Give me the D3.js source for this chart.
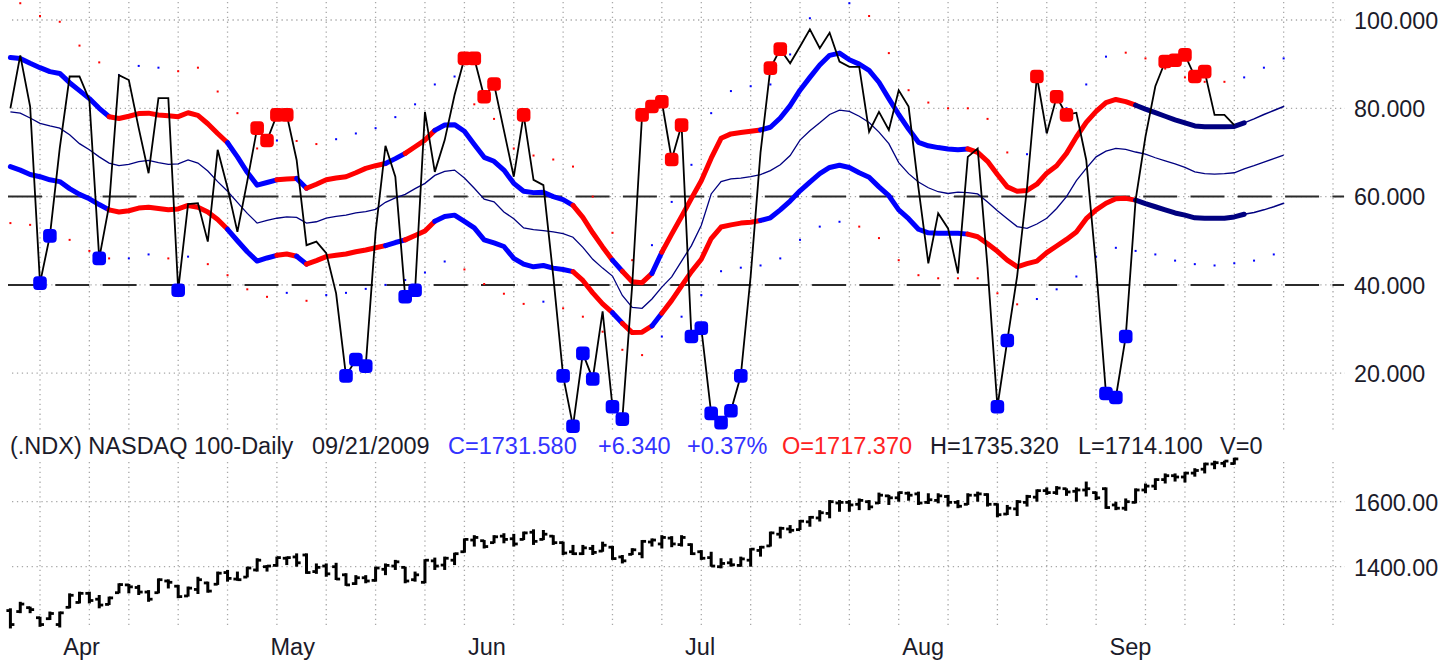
<!DOCTYPE html>
<html>
<head>
<meta charset="utf-8">
<script src="https://cdnjs.cloudflare.com/ajax/libs/d3/7.8.5/d3.min.js"></script>
<style>
  body { margin: 0; background: #fff; overflow: hidden; }
  #vis text { font-family: Arial, "Liberation Sans", sans-serif; }
</style>
</head>
<body>
<div id="vis"></div>
<script>
/* NDX daily: oscillator panel with bands on top, OHLC bars below */

// Trading-day index of the first session of each month / each week (0 = 03/25/2009)
var monthLabels = ['Apr', 'May', 'Jun', 'Jul', 'Aug', 'Sep'];
var monthStarts = [5, 26, 46, 68, 90, 111];
var weekStarts = [3, 8, 12, 17, 22, 27, 32, 37, 42, 46, 51, 56, 61, 66, 70, 75, 80, 85, 90, 95, 100, 105, 110, 115, 119, 124, 129, 134];

// Axis ticks
var oscTicks = [100, 80, 60, 40, 20];
var priceTicks = [1600, 1400];
var levelLines = [60, 40];

// Oscillator (black line), one value per session
var osc = [80, 92, 80.4, 40.4, 51.1, 71, 87.2, 87.2, 81.9, 46,
    58, 87.5, 86.4, 75.5, 65.3, 82.3, 82.3, 38.8, 58.3, 58.5,
    49.8, 70.6, 62, 52, 63.5, 75.5, 72.7, 78.5, 78.5, 68.3,
    49, 49.8, 47.2, 38.1, 19.4, 23.1, 21.6, 52, 71.5, 64.5,
    37.3, 38.8, 79.2, 65.6, 72.8, 83, 91.3, 91.3, 82.6, 85.5,
    75, 64.5, 78.5, 63.8, 62.6, 42, 19.4, 8, 24.5, 18.7,
    34, 12.4, 9.6, 40, 78.5, 80.4, 81.5, 68.4, 76.2, 28.3,
    30.2, 10.9, 8.8, 11.5, 19.4, 42, 70, 89.1, 93.4, 90.2,
    94, 97.9, 93.6, 97.1, 90.6, 89.4, 89.4, 74.7, 79.2, 75.1,
    84.1, 80.4, 62, 44.9, 56.2, 52.8, 42.6, 69, 70.9, 44,
    12.4, 27.4, 42, 62, 87.2, 74.3, 82.6, 78.5, 79, 68.3,
    44, 15.4, 14.5, 28.3, 59.2, 73.6, 85, 90.6, 90.9, 92.1,
    87.2, 88.3, 78.5, 78.5, 76.2];

// Bands (run 5 sessions past the last bar)
var upper = [91.5, 91.3, 90.2, 89.2, 88.3, 87.9, 85.8, 84, 82.2, 80,
    78.1, 77.7, 78.2, 78.8, 78.9, 78.5, 78.3, 78.1, 79, 78.4,
    76.5, 74.3, 72.2, 69, 65.5, 62.6, 63.2, 63.8, 64, 64.1,
    61.9, 62.8, 63.8, 64.2, 64.5, 65.4, 66.4, 67, 67.5, 68.6,
    69.8, 71.3, 72.8, 75, 76.2, 76.3, 74.8, 71.8, 68.9, 68,
    66, 63, 61.2, 60.9, 61, 60, 59.3, 58, 55.3, 51.8,
    48.6, 45.6, 43.1, 40.7, 40.5, 42.6, 47.4, 51.5, 55.5, 59.6,
    63.6, 68.7, 73.2, 74.2, 74.5, 74.8, 75.1, 75.7, 77.8, 80.6,
    84.1, 87, 89.8, 92, 92.5, 91, 90, 88.6, 85.9, 82.2,
    78.6, 75.3, 72.3, 71.5, 71.1, 70.8, 70.6, 70.8, 70, 68,
    65, 62.2, 61.2, 61.4, 62.8, 65.3, 67, 69.8, 73.5, 76.8,
    79.3, 81.3, 82, 81.5, 80.7, 79.8, 79, 78.2, 77.4, 76.7,
    76, 75.8, 75.8, 75.8, 75.9, 76.7, 77.6, 78.6, 79.5, 80.4];
var middle = [79.2, 78.9, 77.8, 76.6, 76, 75.5, 74, 72, 70.6, 69,
    67.6, 67, 67.3, 67.9, 68.2, 67.7, 67.3, 67.4, 68.3, 67.6,
    65.8, 63.4, 61.2, 58.7, 56.2, 54, 54.6, 55.1, 55.4, 55.3,
    54, 54.3, 55.1, 55.5, 55.8, 56.3, 56.6, 57.1, 58.7, 59.7,
    60.5, 61.8, 63, 64.8, 65.7, 66, 64.2, 61.9, 59.4, 58.8,
    56.5, 55, 52.9, 52.5, 52.3, 52, 51.6, 50.8, 48.5, 45.8,
    43.8, 42, 37.6, 34.9, 34.7, 36.8, 39.5, 41.8, 45.4, 48.9,
    53.5, 60.6, 63.4, 64, 64.2, 64.5, 65, 65.9, 67.2, 69.3,
    72.8, 74.9, 76.7, 78.6, 79.6, 79.3, 78.2, 76.8, 74.6, 72,
    67.7, 65.2, 63.3, 62, 61.1, 60.7, 61, 60.9, 60.6, 58.8,
    56.8, 55, 53.2, 52.8, 53.8, 55.1, 57.3, 60, 63.6, 66.4,
    69, 70.3, 70.9, 70.7, 70.1, 69.6, 68.8, 68.1, 67.4, 66.6,
    65.6, 65.2, 65.1, 65.2, 65.4, 66.3, 67, 67.8, 68.6, 69.4];
var lower = [66.8, 66, 65, 64.5, 63.8, 63.4, 61.8, 60.5, 59.5, 58.2,
    57, 56.5, 56.8, 57.4, 57.6, 57.3, 57, 57.2, 58, 57.6,
    56.5, 54.8, 52.6, 50, 47.5, 45.4, 46.1, 46.7, 47, 46.5,
    44.7, 45.5, 46.4, 46.7, 47, 47.5, 47.9, 48.4, 48.9, 49.6,
    50.2, 51.2, 52.2, 54.4, 55.5, 55.8, 54.4, 52.9, 50.2, 49.5,
    48.7, 46, 44.7, 44.1, 44.4, 43.8, 43.5, 43, 41, 38.2,
    35.7, 33.7, 31.3, 29.2, 29.3, 30.7, 33.6, 36.5, 39.8, 43,
    45.8, 50.5, 53.1, 53.6, 54, 54.2, 54.6, 55.2, 57, 59,
    61.3, 63.3, 65.2, 66.6, 67.1, 66.6, 65.4, 64.4, 62.2, 60.2,
    57, 55, 52.6, 51.8, 51.7, 51.7, 51.7, 51.5, 50.9, 49.3,
    47.6, 45.6, 44.1, 44.8, 45.4, 47.3, 48.8, 50.3, 52, 55,
    57, 58.5, 59.5, 59.6, 59.2, 58.4, 57.7, 57, 56.3, 55.8,
    55.2, 55.1, 55.1, 55.1, 55.4, 56, 56.4, 57, 57.7, 58.5];

// Band signal: session where it starts, B = buy, S = sell, N = neutral, P = projection
var signalStart = [0, 10, 22, 27, 29, 30, 38, 40, 43, 57, 61, 62, 65, 66, 76, 97, 114, 125];
var signalType = ['B', 'S', 'B', 'S', 'B', 'S', 'B', 'S', 'B', 'S', 'B', 'S', 'B', 'S', 'B', 'S', 'N', 'P'];

// Extreme markers on the oscillator
var buyMarks = [3, 4, 9, 17, 34, 35, 36, 40, 41, 56, 57, 58, 59, 61, 62, 69, 70, 71, 72, 73, 74, 100, 101, 111, 112, 113];
var sellMarks = [25, 26, 27, 28, 46, 47, 48, 49, 52, 64, 65, 66, 67, 68, 77, 78, 104, 106, 107, 117, 118, 119, 120, 121];

// Dotted outer envelope (upper on odd sessions, lower on even sessions); sign 1 = sell, -1 = buy
var upDotIdx = [1, 3, 5, 7, 9, 11, 13, 15, 17, 19, 21, 23, 25, 27, 29, 31, 33, 35, 37, 39,
    41, 43, 45, 47, 49, 51, 53, 55, 57, 59, 61, 63, 65, 67, 69, 71, 73, 75, 77, 79,
    81, 85, 87, 89, 91, 93, 95, 97, 99, 101, 103, 105, 107, 109, 111, 113, 115, 117, 119, 121,
    123, 125, 127, 129];
var upDotVal = [103.8, 100.9, 99.6, 94.2, 90.4, 87.5, 89.6, 89.2, 88.4, 89.2, 83.8, 78.9, 70.9, 72.7, 72.6, 71.9, 73, 74.3, 75.5, 78,
    80.9, 85.4, 87.2, 80.9, 77.6, 70.9, 69.3, 68.4, 66.8, 60, 51.8, 45.6, 49, 58.8, 67.2, 78.9, 83.9, 85, 85.4, 92.2,
    100.4, 103.8, 100.9, 92.5, 84.1, 81.3, 80, 80, 77.6, 70, 69.6, 74.7, 80, 85.4, 91.7, 92.6, 91.3, 89, 87, 86,
    86, 87, 89.2, 91.3];
var upDotSig = [1, 1, 1, 1, 1, -1, -1, -1, 1, 1, 1, 1, 1, -1, 1, 1, -1, -1, -1, -1,
    -1, -1, -1, 1, 1, 1, 1, 1, 1, 1, 1, 1, -1, -1, -1, -1, -1, -1, -1, -1,
    -1, -1, 1, 1, 1, 1, 1, 1, 1, 1, -1, -1, -1, -1, -1, 1, 1, 1, 1, 1,
    1, -1, -1, -1];
var loDotIdx = [0, 2, 4, 6, 8, 10, 12, 14, 16, 18, 20, 22, 24, 26, 28, 30, 32, 34, 36, 38,
    40, 42, 44, 46, 48, 50, 52, 54, 56, 58, 60, 62, 64, 66, 68, 70, 72, 74, 76, 78,
    80, 82, 84, 86, 88, 90, 92, 94, 96, 98, 100, 102, 104, 106, 108, 110, 112, 114, 116, 118,
    120, 122, 124, 126, 128];
var loDotVal = [54, 53.6, 51, 50.2, 47.7, 46, 46, 46.9, 46, 46.4, 44.7, 42.2, 39, 37.3, 38.2, 36.4, 37.7, 38.2, 39.1, 40,
    41.1, 42.8, 45.3, 43.5, 40.2, 38, 35.7, 36.2, 34.7, 32.8, 29.4, 25.3, 24.1, 28.3, 32.8, 37.7, 43.1, 43.9, 44.4, 46,
    50.2, 53.2, 54.3, 53.2, 50.6, 45.6, 42.2, 41.5, 41.5, 41.5, 38.1, 35.6, 36.8, 39, 41.9, 46.4, 48.4, 47.7, 46.9, 45.5,
    44.7, 44.4, 44.9, 45.5, 46.9];
var loDotSig = [1, 1, 1, 1, 1, 1, -1, -1, 1, -1, 1, 1, 1, 1, -1, 1, -1, -1, -1, -1,
    -1, -1, -1, 1, 1, 1, 1, -1, 1, 1, 1, 1, 1, -1, -1, -1, -1, -1, -1, -1,
    -1, -1, -1, 1, 1, 1, 1, 1, 1, 1, 1, 1, -1, -1, -1, -1, -1, -1, -1, -1,
    -1, -1, -1, -1, -1];

// Daily OHLC of the index
var high = [1272, 1292, 1277, 1246, 1262, 1262, 1318, 1323, 1323, 1313,
    1308, 1349, 1347, 1344, 1328, 1364, 1361, 1344, 1339, 1369,
    1354, 1385, 1390, 1385, 1400, 1426, 1405, 1431, 1431, 1441,
    1441, 1410, 1410, 1412, 1380, 1374, 1374, 1400, 1410, 1421,
    1400, 1385, 1423, 1428, 1431, 1443, 1487, 1497, 1482, 1497,
    1503, 1501, 1508, 1515, 1513, 1497, 1477, 1467, 1467, 1467,
    1477, 1464, 1436, 1457, 1482, 1487, 1497, 1494, 1497, 1472,
    1451, 1446, 1426, 1426, 1431, 1457, 1464, 1508, 1523, 1528,
    1544, 1556, 1574, 1605, 1605, 1605, 1610, 1605, 1628, 1621,
    1631, 1631, 1631, 1626, 1626, 1621, 1605, 1626, 1631, 1626,
    1595, 1590, 1605, 1621, 1638, 1644, 1648, 1641, 1644, 1662,
    1631, 1644, 1600, 1610, 1641, 1656, 1672, 1687, 1687, 1692,
    1703, 1720, 1726, 1726, 1735.32];
var low = [1210, 1257, 1257, 1215, 1236, 1213, 1272, 1287, 1287, 1272,
    1282, 1318, 1318, 1313, 1292, 1318, 1333, 1303, 1308, 1316,
    1320, 1344, 1354, 1357, 1367, 1385, 1385, 1400, 1405, 1400,
    1378, 1378, 1369, 1359, 1341, 1344, 1349, 1354, 1374, 1390,
    1349, 1354, 1349, 1390, 1390, 1405, 1443, 1462, 1456, 1472,
    1472, 1462, 1482, 1467, 1482, 1467, 1436, 1436, 1436, 1436,
    1446, 1421, 1410, 1436, 1426, 1462, 1456, 1460, 1462, 1436,
    1421, 1400, 1395, 1400, 1400, 1400, 1431, 1462, 1487, 1503,
    1513, 1523, 1539, 1549, 1569, 1569, 1574, 1574, 1593, 1590,
    1600, 1603, 1590, 1593, 1595, 1585, 1580, 1590, 1600, 1585,
    1552, 1559, 1556, 1585, 1600, 1621, 1621, 1618, 1600, 1616,
    1605, 1578, 1574, 1572, 1595, 1626, 1636, 1656, 1662, 1659,
    1677, 1687, 1700, 1706, 1714.1];
var open = [1265, 1262, 1274, 1243, 1240, 1222, 1275, 1290, 1318, 1300,
    1284, 1320, 1344, 1336, 1322, 1320, 1356, 1340, 1310, 1330,
    1350, 1346, 1382, 1362, 1368, 1390, 1400, 1404, 1426, 1430,
    1436, 1385, 1402, 1400, 1375, 1348, 1366, 1358, 1392, 1402,
    1398, 1360, 1352, 1418, 1405, 1420, 1446, 1482, 1480, 1474,
    1494, 1486, 1484, 1506, 1484, 1494, 1474, 1446, 1440, 1456,
    1448, 1460, 1430, 1438, 1440, 1476, 1470, 1488, 1468, 1468,
    1446, 1428, 1400, 1412, 1404, 1420, 1450, 1464, 1500, 1516,
    1514, 1538, 1550, 1564, 1596, 1598, 1592, 1600, 1596, 1618,
    1612, 1626, 1624, 1598, 1604, 1616, 1598, 1592, 1620, 1622,
    1592, 1562, 1578, 1598, 1614, 1634, 1628, 1640, 1632, 1636,
    1628, 1640, 1590, 1580, 1598, 1636, 1648, 1668, 1680, 1676,
    1688, 1700, 1716, 1718, 1717.37];
var close = [1222, 1285, 1268, 1222, 1256, 1258, 1312, 1318, 1296, 1282,
    1304, 1345, 1338, 1322, 1300, 1360, 1352, 1308, 1334, 1360,
    1325, 1380, 1364, 1360, 1396, 1420, 1402, 1428, 1428, 1412,
    1382, 1398, 1378, 1362, 1344, 1366, 1356, 1396, 1404, 1415,
    1356, 1375, 1420, 1402, 1426, 1440, 1484, 1490, 1462, 1492,
    1484, 1470, 1504, 1478, 1500, 1474, 1442, 1440, 1458, 1444,
    1466, 1425, 1418, 1452, 1478, 1482, 1490, 1470, 1490, 1440,
    1426, 1402, 1410, 1406, 1424, 1454, 1460, 1504, 1518, 1512,
    1540, 1552, 1566, 1600, 1598, 1590, 1604, 1584, 1620, 1612,
    1628, 1620, 1596, 1606, 1618, 1598, 1586, 1620, 1624, 1592,
    1560, 1580, 1600, 1616, 1634, 1628, 1642, 1630, 1636, 1640,
    1612, 1582, 1580, 1600, 1636, 1648, 1668, 1680, 1676, 1688,
    1696, 1716, 1720, 1725, 1731.58];

// Quote line under the oscillator panel
var quoteText = ['(.NDX) NASDAQ 100-Daily', '09/21/2009', 'C=1731.580', '+6.340', '+0.37%', 'O=1717.370', 'H=1735.320', 'L=1714.100', 'V=0'];
var quoteKind = ['name', 'name', 'up', 'up', 'up', 'open', 'name', 'name', 'name'];

(function () {
    var width = 1440;
    var height = 663;

    var colors = { B: '#0000ff', S: '#ff0000', N: '#000080', P: '#000080' };
    var dotColor = d3.scaleOrdinal().domain([1, -1]).range(['#ff0000', '#0000ff']);
    var textColor = { name: '#1b1b2a', up: '#3333ff', open: '#ff2222' };

    var svg = d3.select('#vis')
        .append('svg')
        .attr('width', width)
        .attr('height', height);

    // Scales: session index -> x, oscillator value -> y, price -> y
    var xScale = d3.scaleLinear().domain([0, 134]).range([10.4, 1333]);
    var yOsc = d3.scaleLinear().domain([0, 100]).range([461.5, 20]);
    var yPrice = d3.scaleLinear().domain([1400, 1600]).range([566.7, 501.7]);

    svg.append('clipPath').attr('id', 'topClip')
        .append('rect').attr('x', 0).attr('y', 0).attr('width', 1345).attr('height', 434);

    // Dotted grid
    var grid = svg.append('g')
        .attr('stroke', '#a8a8a8')
        .attr('stroke-width', 1.3)
        .attr('stroke-dasharray', '1.3,3.6');

    grid.selectAll('.hOsc').data(oscTicks).enter().append('line')
        .attr('x1', 12).attr('x2', 1345)
        .attr('y1', function (d) { return yOsc(d); })
        .attr('y2', function (d) { return yOsc(d); });

    grid.selectAll('.hPx').data(priceTicks).enter().append('line')
        .attr('x1', 12).attr('x2', 1345)
        .attr('y1', function (d) { return yPrice(d); })
        .attr('y2', function (d) { return yPrice(d); });

    grid.selectAll('.vTop').data(weekStarts).enter().append('line')
        .attr('x1', function (d) { return xScale(d); })
        .attr('x2', function (d) { return xScale(d); })
        .attr('y1', 2).attr('y2', 432);

    grid.selectAll('.vBot').data(weekStarts).enter().append('line')
        .attr('x1', function (d) { return xScale(d); })
        .attr('x2', function (d) { return xScale(d); })
        .attr('y1', 462).attr('y2', 626);

    // Long-dash reference levels
    svg.append('g').selectAll('line').data(levelLines).enter().append('line')
        .attr('x1', 8).attr('x2', 1344)
        .attr('y1', function (d) { return yOsc(d); })
        .attr('y2', function (d) { return yOsc(d); })
        .attr('stroke', '#2b2b2b')
        .attr('stroke-width', 2)
        .attr('stroke-dasharray', '34,13.3');

    var top = svg.append('g').attr('clip-path', 'url(#topClip)');

    // Envelope dots
    var upDots = upDotIdx.map(function (d, k) { return { i: d, v: upDotVal[k], s: upDotSig[k] }; });
    var loDots = loDotIdx.map(function (d, k) { return { i: d, v: loDotVal[k], s: loDotSig[k] }; });
    top.append('g').selectAll('rect').data(upDots.concat(loDots)).enter().append('rect')
        .attr('x', function (d) { return xScale(d.i) - 1; })
        .attr('y', function (d) { return yOsc(d.v) - 1; })
        .attr('width', 2).attr('height', 2)
        .attr('fill', function (d) { return dotColor(d.s); });

    var line = d3.line()
        .x(function (d) { return xScale(d.i); })
        .y(function (d) { return yOsc(d.v); });

    // Middle line
    top.append('path')
        .datum(middle.map(function (v, i) { return { i: i, v: v }; }))
        .attr('d', line)
        .attr('fill', 'none')
        .attr('stroke', '#000080')
        .attr('stroke-width', 1.3);

    // Thick bands, coloured by signal runs
    var runs = signalStart.map(function (s, k) {
        var e = k < signalStart.length - 1 ? signalStart[k + 1] : upper.length - 1;
        return { from: s, to: e, type: signalType[k] };
    });
    [upper, lower].forEach(function (band) {
        top.append('g').selectAll('path').data(runs).enter().append('path')
            .attr('d', function (r) {
                var pts = [];
                for (var i = r.from; i <= r.to; i++) pts.push({ i: i, v: band[i] });
                return line(pts);
            })
            .attr('fill', 'none')
            .attr('stroke', function (r) { return colors[r.type]; })
            .attr('stroke-width', function (r) { return r.type === 'P' ? 1.5 : 5; })
            .attr('stroke-linejoin', 'round')
            .attr('stroke-linecap', 'round');
    });

    // Oscillator
    top.append('path')
        .datum(osc.map(function (v, i) { return { i: i, v: v }; }))
        .attr('d', line)
        .attr('fill', 'none')
        .attr('stroke', '#000')
        .attr('stroke-width', 1.8);

    // Markers
    var marks = buyMarks.map(function (i) { return { i: i, s: -1 }; })
        .concat(sellMarks.map(function (i) { return { i: i, s: 1 }; }));
    top.append('g').selectAll('rect').data(marks).enter().append('rect')
        .attr('x', function (d) { return xScale(d.i) - 6.8; })
        .attr('y', function (d) { return yOsc(osc[d.i]) - 6.8; })
        .attr('width', 13.6).attr('height', 13.6)
        .attr('rx', 4).attr('ry', 4)
        .attr('fill', function (d) { return dotColor(d.s); });

    // OHLC bars
    var bars = svg.append('g').attr('stroke', '#000');
    var ohlc = high.map(function (h, i) { return { i: i, h: h, l: low[i], o: open[i], c: close[i] }; });
    bars.selectAll('.hl').data(ohlc).enter().append('line')
        .attr('x1', function (d) { return xScale(d.i); })
        .attr('x2', function (d) { return xScale(d.i); })
        .attr('y1', function (d) { return yPrice(d.h); })
        .attr('y2', function (d) { return yPrice(d.l); })
        .attr('stroke-width', 3);
    bars.selectAll('.op').data(ohlc).enter().append('line')
        .attr('x1', function (d) { return xScale(d.i) - 4; })
        .attr('x2', function (d) { return xScale(d.i); })
        .attr('y1', function (d) { return yPrice(d.o); })
        .attr('y2', function (d) { return yPrice(d.o); })
        .attr('stroke-width', 2.8);
    bars.selectAll('.cl').data(ohlc).enter().append('line')
        .attr('x1', function (d) { return xScale(d.i); })
        .attr('x2', function (d) { return xScale(d.i) + 4; })
        .attr('y1', function (d) { return yPrice(d.c); })
        .attr('y2', function (d) { return yPrice(d.c); })
        .attr('stroke-width', 2.8);

    // Right value axes
    var oscAxis = d3.axisRight(yOsc).tickValues(oscTicks).tickFormat(d3.format('.3f')).tickSize(0).tickPadding(0);
    var pxAxis = d3.axisRight(yPrice).tickValues(priceTicks).tickFormat(d3.format('.2f')).tickSize(0).tickPadding(0);
    [oscAxis, pxAxis].forEach(function (a) {
        var g = svg.append('g').attr('transform', 'translate(1354,0)').call(a);
        g.select('.domain').remove();
        g.selectAll('text')
            .attr('dy', '0.36em')
            .style('font-size', '23.3px')
            .style('fill', textColor.name);
    });

    // Month axis
    var monthAxis = d3.axisBottom(xScale).tickValues(monthStarts)
        .tickFormat(function (d, k) { return monthLabels[k]; })
        .tickSize(0).tickPadding(0);
    var mg = svg.append('g').attr('transform', 'translate(0,638)').call(monthAxis);
    mg.select('.domain').remove();
    mg.selectAll('text')
        .attr('text-anchor', 'start')
        .attr('x', 3)
        .attr('dy', '0.71em')
        .style('font-size', '23.5px')
        .style('fill', textColor.name);

    // Quote line
    var quoteX = [10, 312, 448, 598, 687, 782, 930, 1078, 1220];
    svg.append('g').selectAll('text').data(quoteText).enter().append('text')
        .attr('x', function (d, k) { return quoteX[k]; })
        .attr('y', 454)
        .style('font-size', '23.5px')
        .style('fill', function (d, k) { return textColor[quoteKind[k]]; })
        .text(function (d) { return d; });
})();
</script>
</body>
</html>
